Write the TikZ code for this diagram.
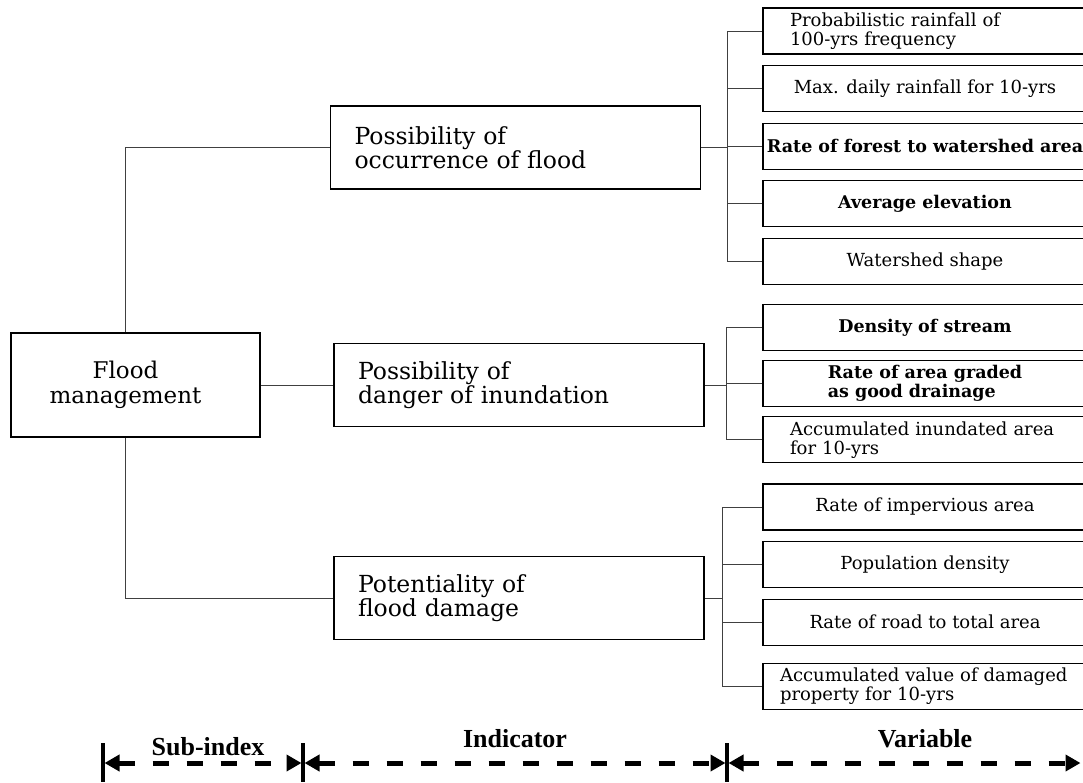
\documentclass[tikz,border=0pt]{standalone}
\usepackage{fontspec}
\setmainfont{DejaVu Serif}
\newfontfamily\labelfont{Liberation Serif}
\usetikzlibrary{positioning,arrows.meta}
\tikzset{
  root/.style  ={draw, line width=1.6pt, minimum width=249pt, minimum height=104pt,
                 align=center, font=\fontsize{23}{25}\selectfont},
  ind/.style   ={draw, line width=1.6pt, minimum width=370pt, minimum height=83pt,
                 text width=322pt, inner xsep=24pt, align=left, font=\fontsize{23.5}{24.5}\selectfont},
  var/.style   ={draw, line width=1.1pt, minimum width=324pt, minimum height=46pt,
                 align=center, inner ysep=1pt, font=\fontsize{18}{19}\selectfont},
  varb/.style  ={var, font=\fontsize{17.5}{19}\selectfont\bfseries},
  link/.style  ={draw=black!75, line width=0.9pt},
  dimarr/.style={{Triangle[length=15pt,width=16pt]}-{Triangle[length=15pt,width=16pt]},
                 line width=5pt, dash pattern=on 16pt off 18pt, shorten <=1.5pt, shorten >=1.5pt},
  dimbar/.style={line width=3.5pt},
  dimlbl/.style={anchor=base, font=\labelfont\bfseries\fontsize{26}{28}\selectfont},
}
\begin{document}
\begin{tikzpicture}[x=1pt, y=-1pt, node distance=10.5pt]
\useasboundingbox (0,0) rectangle (1083,782);
\clip (0,0) rectangle (1083,782);
% sub-index and indicators
\node[root] (fm) at (135.5,385) {Flood\hspace*{20pt}\\management\hspace*{20pt}};
\node[ind] (occ) at (515.5,147.5) {Possibility of\\occurrence of flood};
\node[ind] (inu) at (519,385) {Possibility of\\danger of inundation};
\node[ind] (dmg) at (519,598) {Potentiality of\\flood damage};
% variables
\node[var, text width=270pt, align=left] (rain100) at (925,31) {Probabilistic rainfall of\\100-yrs frequency};
\node[var, below=of rain100] (rain10) {Max. daily rainfall for 10-yrs};
\node[varb, below=of rain10] (forest) {Rate of forest to watershed area};
\node[varb, below=of forest] (elev) {Average elevation};
\node[var, below=of elev] (shape) {Watershed shape};
\node[varb] (stream) at (925,327.5) {Density of stream};
\node[varb, below=9pt of stream, align=left] (drain) {Rate of area graded\\as good drainage};
\node[var, below=9pt of drain, text width=270pt, align=left] (inarea) {Accumulated inundated area\\for 10-yrs};
\node[var] (imperv) at (925,507) {Rate of impervious area};
\node[var, below=of imperv] (popden) {Population density};
\node[var, below=of popden] (road) {Rate of road to total area};
\node[var, below=17pt of road, text width=290pt, align=left] (prop) {Accumulated value of damaged\\property for 10-yrs};

% tree lines
\draw[link] ([xshift=-10pt]fm.north) |- (occ.west);
\draw[link] (fm.east) -- (inu.west);
\draw[link] ([xshift=-10pt]fm.south) |- (dmg.west);

\coordinate (occbus) at ([xshift=26pt]occ.east);
\draw[link] (occ.east) -- (occbus);
\draw[link] (rain100.west) -| (occbus) |- (shape.west);
\foreach \v in {rain10,forest,elev} \draw[link] (occbus |- \v.west) -- (\v.west);

\coordinate (inubus) at ([xshift=22pt]inu.east);
\draw[link] (inu.east) -- (inubus);
\draw[link] (stream.west) -| (inubus) |- (inarea.west);
\draw[link] (inubus |- drain.west) -- (drain.west);

\coordinate (dmgbus) at ([xshift=18pt]dmg.east);
\draw[link] (dmg.east) -- (dmgbus);
\draw[link] (imperv.west) -| (dmgbus) |- (prop.west);
\foreach \v in {popden,road} \draw[link] (dmgbus |- \v.west) -- (\v.west);

% levels
\coordinate (d0) at (103,763);
\coordinate (d1) at (303,763);
\coordinate (d2) at (727,763);
\coordinate (d3) at (1082,763);
\foreach \d in {d0,d1,d2} \draw[dimbar] ([yshift=20pt]\d) -- ([yshift=-19pt]\d);
\draw[dimarr] (d0) -- (d1);
\draw[dimarr] (d1) -- (d2);
\draw[dimarr] (d2) -- (d3);
\node[dimlbl] (lsub) at (208,755) {Sub-index};
\node[dimlbl] (lind) at (515,747) {Indicator};
\node[dimlbl] (lvar) at (925,747) {Variable};
\end{tikzpicture}
\end{document}
